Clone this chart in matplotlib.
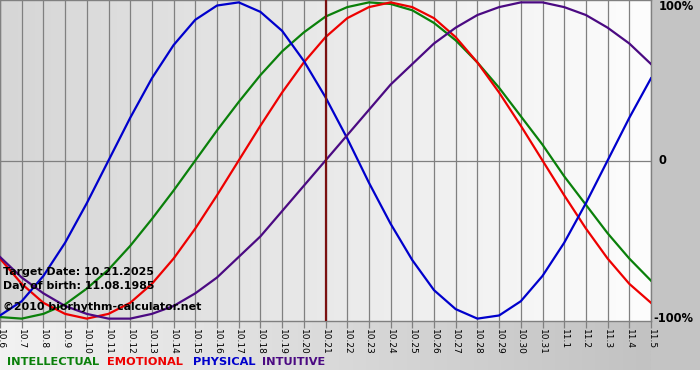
import numpy as np
import matplotlib.pyplot as plt
from matplotlib.colors import LinearSegmentedColormap
from matplotlib.patches import Rectangle

# days shown on the x axis (month.day)
DAY_LABELS = [
    "10.6", "10.7", "10.8", "10.9", "10.10", "10.11", "10.12", "10.13",
    "10.14", "10.15", "10.16", "10.17", "10.18", "10.19", "10.20", "10.21",
    "10.22", "10.23", "10.24", "10.25", "10.26", "10.27", "10.28", "10.29",
    "10.30", "10.31", "11.1", "11.2", "11.3", "11.4", "11.5",
]
TARGET_DAY = "10.21"

# cycle values per day (-1 .. 1)
INTELLECTUAL = [
    -0.99, -1.00, -0.97, -0.91, -0.81, -0.69, -0.54, -0.37, -0.19, 0.00, 0.19,
    0.37, 0.54, 0.69, 0.81, 0.91, 0.97, 1.00, 0.99, 0.95, 0.87, 0.76, 0.62,
    0.46, 0.28, 0.10, -0.10, -0.28, -0.46, -0.62, -0.76,
]
EMOTIONAL = [
    -0.62, -0.78, -0.90, -0.97, -1.00, -0.97, -0.90, -0.78, -0.62, -0.43, -0.22,
    0.00, 0.22, 0.43, 0.62, 0.78, 0.90, 0.97, 1.00, 0.97, 0.90, 0.78, 0.62,
    0.43, 0.22, 0.00, -0.22, -0.43, -0.62, -0.78, -0.90,
]
PHYSICAL = [
    -0.98, -0.89, -0.73, -0.52, -0.27, 0.00, 0.27, 0.52, 0.73, 0.89, 0.98,
    1.00, 0.94, 0.82, 0.63, 0.40, 0.14, -0.14, -0.40, -0.63, -0.82, -0.94,
    -1.00, -0.98, -0.89, -0.73, -0.52, -0.27, 0.00, 0.27, 0.52,
]
INTUITIVE = [
    -0.61, -0.74, -0.84, -0.92, -0.97, -1.00, -1.00, -0.97, -0.92, -0.84, -0.74,
    -0.61, -0.48, -0.32, -0.16, 0.00, 0.16, 0.32, 0.48, 0.61, 0.74, 0.84, 0.92,
    0.97, 1.00, 1.00, 0.97, 0.92, 0.84, 0.74, 0.61,
]

SERIES = [
    ("INTELLECTUAL", INTELLECTUAL, "#0a800a"),
    ("EMOTIONAL", EMOTIONAL, "#ee0000"),
    ("PHYSICAL", PHYSICAL, "#0000cc"),
    ("INTUITIVE", INTUITIVE, "#4b0a82"),
]
LEGEND_X = [7, 107, 193, 262]

GRID_COLOR = "#808080"
W, H = 700, 380
PLOT_W, PLOT_H = 651, 321

fig = plt.figure(figsize=(W / 100, H / 100), dpi=100)
fig.patch.set_facecolor("white")

# background frame (pixel coordinates)
bg = fig.add_axes([0, 0, 1, 1])
bg.set_xlim(0, W)
bg.set_ylim(H, 0)
bg.axis("off")
strip_cmap = LinearSegmentedColormap.from_list("strip", ["#f2f2f2", "#c2c2c2"])
bg.imshow(
    np.linspace(0, 1, 256)[None, :],
    cmap=strip_cmap,
    extent=(0, PLOT_W, 370, PLOT_H),
    aspect="auto",
)
bg.add_patch(Rectangle((PLOT_W, 0), W - PLOT_W, 370, color="#c4c4c4", lw=0))

ax = fig.add_axes([0, 1 - PLOT_H / H, PLOT_W / W, PLOT_H / H])
x = np.arange(len(DAY_LABELS))
ylim = 1.015
ax.set_xlim(0, len(DAY_LABELS) - 1)
ax.set_ylim(-ylim, ylim)

plot_cmap = LinearSegmentedColormap.from_list("plot", ["#d6d6d6", "#fdfdfd"])
ax.imshow(
    np.linspace(0, 1, 256)[None, :],
    cmap=plot_cmap,
    extent=(0, len(DAY_LABELS) - 1, -ylim, ylim),
    aspect="auto",
    zorder=0,
)

ax.set_xticks(x)
ax.set_xticklabels(DAY_LABELS)
ax.set_yticks([])
ax.tick_params(
    axis="x",
    direction="out",
    length=5,
    width=0.9,
    color=GRID_COLOR,
    labelsize=6.5,
    labelrotation=-90,
    pad=1,
)
ax.grid(axis="x", color=GRID_COLOR, linewidth=0.9, zorder=1)
ax.set_axisbelow(True)
ax.axhline(0, color=GRID_COLOR, linewidth=0.9, zorder=1)
for spine in ax.spines.values():
    spine.set_color(GRID_COLOR)
    spine.set_linewidth(1.0)

for name, values, color in SERIES:
    ax.plot(x, values, color=color, linewidth=1.6, zorder=3)

ax.axvline(DAY_LABELS.index(TARGET_DAY), color="#7a1010", linewidth=1.6, zorder=4)

# right hand percentage labels
trans = ax.get_yaxis_transform()
ax.text(1.012, 1.0, "100%", transform=ax.transAxes, ha="left", va="top",
        fontsize=8.3, fontweight="bold", clip_on=False)
ax.text(1.012, 0, "0", transform=trans, ha="left", va="center",
        fontsize=8.3, fontweight="bold", clip_on=False)
ax.text(1.004, -1, "-100%", transform=trans, ha="left", va="center",
        fontsize=8.3, fontweight="bold", clip_on=False)

info = [
    ("Target Date: 10.21.2025", 0.153),
    ("Day of birth: 11.08.1985", 0.109),
    ("\u00a92010 biorhythm-calculator.net", 0.044),
]
for txt, ypos in info:
    ax.text(0.005, ypos, txt, transform=ax.transAxes, ha="left", va="center",
            fontsize=7.9, fontweight="bold", zorder=5)

for (name, values, color), lx in zip(SERIES, LEGEND_X):
    fig.text(lx / W, 1 - 362 / H, name, color=color, ha="left", va="center",
             fontsize=8.2, fontweight="bold")

fig.savefig("out.png", dpi=100)
